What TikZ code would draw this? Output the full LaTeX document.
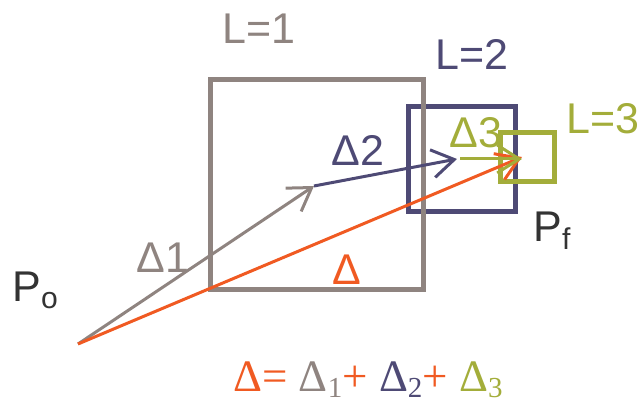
\documentclass[tikz,border=0pt]{standalone}
\usepackage{fontspec}
\setmainfont{Liberation Sans}
\newfontfamily\eqfont{Liberation Serif}
\usetikzlibrary{arrows.meta}
\definecolor{lvlone}{HTML}{8F8480}
\definecolor{lvltwo}{HTML}{4E4A75}
\definecolor{lvlthree}{HTML}{A3AD3A}
\definecolor{total}{HTML}{F05A22}
\definecolor{ptext}{HTML}{333333}
\newcommand{\eqsub}[1]{\raisebox{-3pt}{\fontsize{14.5}{16}\selectfont #1}}
\begin{document}
\begin{tikzpicture}[x=0.5pt,y=-0.5pt,
    >={Straight Barb[length=11pt,width=14pt]},
    every node/.style={inner sep=0pt,font=\fontsize{21.5}{24}\selectfont},
    levelbox/.style={line width=2.5pt},
    step arrow/.style={->,line width=1.5pt}]
  \useasboundingbox (0,0) rectangle (639,405);
  % search boxes
  \draw[levelbox,lvltwo] (408,107) rectangle (515,212);
  \draw[levelbox,lvlone] (210,80) rectangle (423,290);
  \draw[levelbox,lvlthree] (500,133) rectangle (554,182);
  % points
  \coordinate (po) at (78,344);
  \coordinate (dend1) at (314,186);
  \coordinate (dend2) at (457,159);
  \coordinate (dstart3) at (460,159);
  \coordinate (pf) at (522,159);
  % steps
  \draw[step arrow,lvlone] (po) -- (dend1);
  \draw[step arrow,lvltwo] (dend1) -- (dend2);
  \draw[step arrow,total] (po) -- ([yshift=1]pf) ;
  \draw[step arrow,lvlthree] (dstart3) -- (pf);
  % labels
  \node[lvlone] (lone) at (259,29) {L=1};
  \node[lvltwo] (ltwo) at (472,54) {L=2};
  \node[lvlthree] (lthree) at (603,119) {L=3};
  \node[lvlone] (done) at (163,258) {Δ1};
  \node[lvltwo] (dtwo) at (358,150) {Δ2};
  \node[lvlthree] (dthree) at (476,133) {Δ3};
  \node[total] (dtot) at (347,270) {Δ};
  \node[ptext,anchor=base west] (polabel) at (12,302) {P\textsubscript{o}};
  \node[ptext,anchor=base west] (pflabel) at (533,242) {P\textsubscript{f}};
  \node[anchor=base west,font=\eqfont\fontsize{22.5}{24}\selectfont] (sum) at (233,392)
    {\textcolor{total}{Δ=} \textcolor{lvlone}{Δ\eqsub{1}}\textcolor{total}{+}
     \textcolor{lvltwo}{Δ\eqsub{2}}\textcolor{total}{+} \textcolor{lvlthree}{Δ\eqsub{3}}};
\end{tikzpicture}
\end{document}
